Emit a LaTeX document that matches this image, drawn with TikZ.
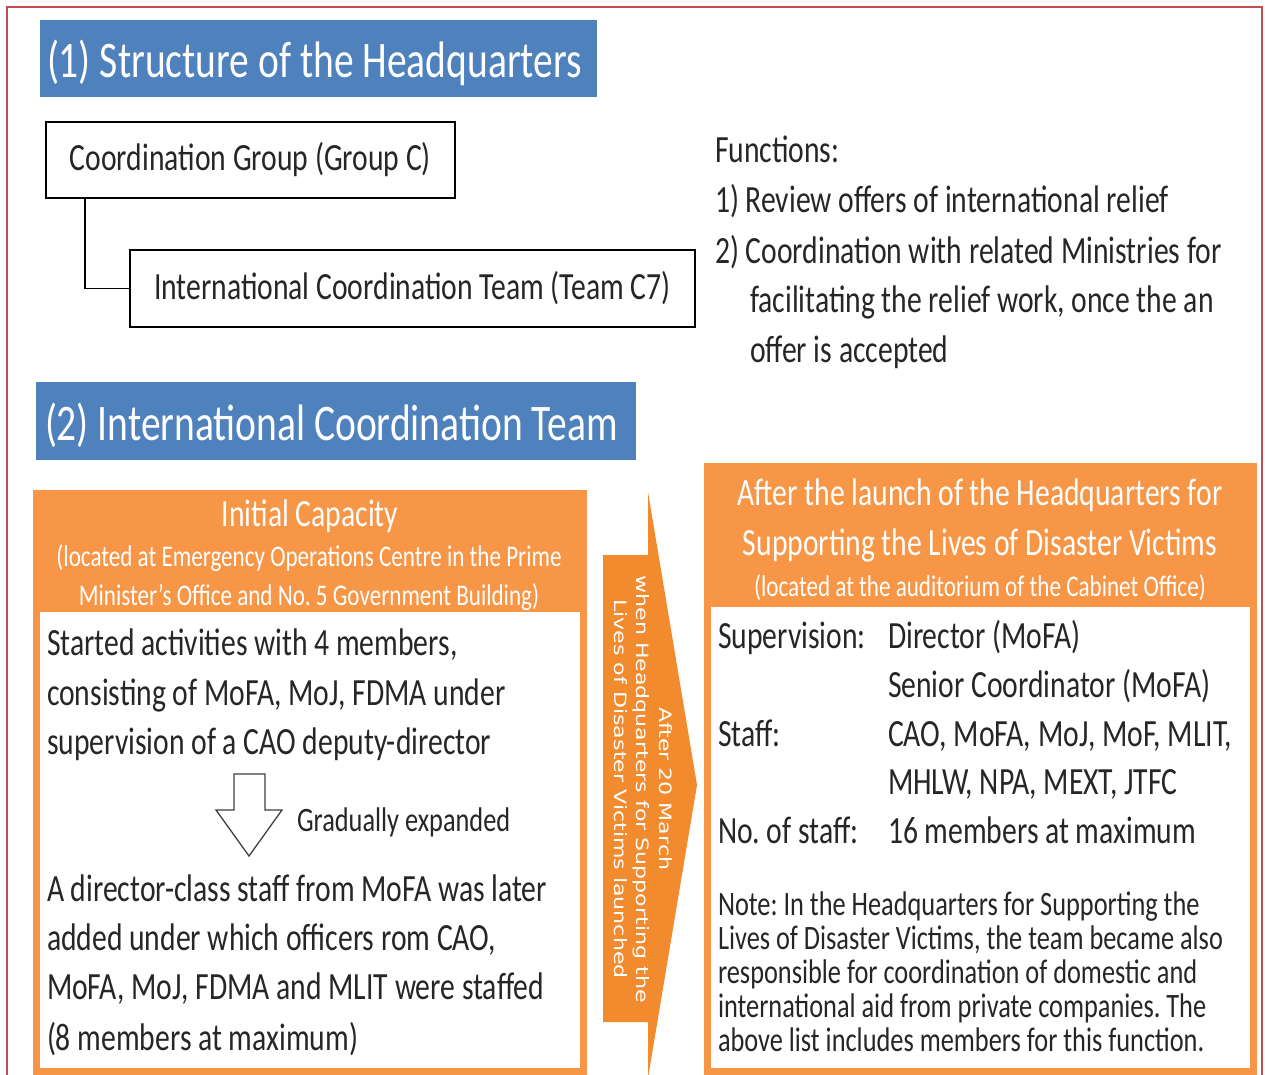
\documentclass[tikz,border=0pt]{standalone}
\usepackage{fontspec}
\setmainfont{Carlito}[FakeStretch=0.77]
\newfontfamily\arrfont{DejaVu Sans}[FakeStretch=1.3]
\usetikzlibrary{calc}
\definecolor{hdblue}{HTML}{4F81BD}
\definecolor{hdorange}{HTML}{F79646}
\definecolor{arrorange}{HTML}{F28A2E}
\definecolor{pageframe}{HTML}{C0504D}
\definecolor{ink}{HTML}{262626}
\newcommand\fsz[1]{\fontsize{#1}{#1}\selectfont}
\frenchspacing
\begin{document}
\begin{tikzpicture}[x=1pt,y=-1pt,
  every node/.style={inner sep=0pt, outer sep=0pt},
  titlebox/.style={fill=hdblue, anchor=north west, minimum height=77pt},
  titletext/.style={anchor=base west, text=white, font=\fsz{51.3}},
  orgbox/.style={draw=black, line width=1.4pt, fill=white, anchor=north west, text=ink, font=\fsz{38.5}},
  bodytext/.style={anchor=base west, text=ink, font=\fsz{38.5}},
  notetext/.style={anchor=base west, text=ink, font=\fsz{34.2}},
  headbig/.style={anchor=base, text=white, font=\fsz{38.5}},
  headsmall/.style={anchor=base, text=white, font=\fsz{30}},
  orangebox/.style={fill=hdorange, anchor=north west},
  whitebody/.style={fill=white, anchor=north west}
]
\useasboundingbox (0,0) rectangle (1265,1075);
% page frame
\draw[pageframe, line width=2pt] (7,1090) -- (7,7) -- (1262,7) -- (1262,1090);

% ---------- (1) ----------
\node[titlebox, minimum width=557pt] (t1box) at (40,20) {};
\node[titletext] (t1) at (47,78) {(1) Structure of the Headquarters};

\node[orgbox, minimum width=409pt, minimum height=76pt] (grpC) at (46,122) {Coordination Group (Group C)};
\node[orgbox, minimum width=565pt, minimum height=77pt] (teamC7) at (130,250) {International Coordination Team (Team C7)};
\draw[black, line width=1.4pt] ($(grpC.south west)+(39,0)$) |- (teamC7.west);

\node[bodytext] (f0) at (715,163) {Functions:};
\node[bodytext] (f1) at (715,213) {1) Review offers of international relief};
\node[bodytext] (f2) at (715,263) {2) Coordination with related Ministries for};
\node[bodytext] (f3) at (750,312) {facilitating the relief work, once the an};
\node[bodytext] (f4) at (750,362) {offer is accepted};

% ---------- (2) ----------
\node[titlebox, minimum width=600pt, minimum height=78pt] (t2box) at (36,382) {};
\node[titletext] (t2) at (45,440) {(2) International Coordination Team};

% left orange box
\node[orangebox, minimum width=554pt, minimum height=600pt] (initbox) at (33,490) {};
\node[whitebody, minimum width=540pt, minimum height=456pt] (initbody) at (40,612) {};
\node[headbig] (ih1) at (310,526) {Initial Capacity};
\node[headsmall] (ih2) at (309,566) {(located at Emergency Operations Centre in the Prime};
\node[headsmall] (ih3) at (309,605) {Minister’s Office and No. 5 Government Building)};

\node[bodytext] (l1) at (47,655) {Started activities with 4 members,};
\node[bodytext] (l2) at (47,705) {consisting of MoFA, MoJ, FDMA under};
\node[bodytext] (l3) at (47,754) {supervision of a CAO deputy-director};

\draw[black!75, line width=1.3pt, fill=white] (234,774) -- (265,774) -- (265,810) -- (282,810) -- (249,856) -- (216,810) -- (234,810) -- cycle;
\node[notetext] (grad) at (297,831) {Gradually expanded};

\node[bodytext] (l4) at (47,901) {A director-class staff from MoFA was later};
\node[bodytext] (l5) at (47,950) {added under which officers rom CAO,};
\node[bodytext] (l6) at (47,999) {MoFA, MoJ, FDMA and MLIT were staffed};
\node[bodytext] (l7) at (47,1050) {(8 members at maximum)};

% arrow
\fill[arrorange] (603,555) -- (648,555) -- (648,492) -- (697,785) -- (648,1078) -- (648,1022) -- (603,1022) -- cycle;
\node[rotate=-90, align=center, text=white, font=\arrfont\fontsize{17}{22.5}\selectfont] (arrtxt) at (643,789)
  {After 20 March\\when Headquarters for Supporting the\\Lives of Disaster Victims launched};

% right orange box
\node[orangebox, minimum width=553pt, minimum height=627pt] (afterbox) at (704,463) {};
\node[whitebody, minimum width=539pt, minimum height=461pt] (afterbody) at (711,607) {};
\node[headbig] (ah1) at (980,505) {After the launch of the Headquarters for};
\node[headbig] (ah2) at (980,555) {Supporting the Lives of Disaster Victims};
\node[headsmall] (ah3) at (980,596) {(located at the auditorium of the Cabinet Office)};

\node[bodytext] (r1a) at (718,648) {Supervision:};
\node[bodytext] (r1b) at (888,648) {Director (MoFA)};
\node[bodytext] (r2b) at (888,697) {Senior Coordinator (MoFA)};
\node[bodytext] (r3a) at (718,746) {Staff:};
\node[bodytext] (r3b) at (888,746) {CAO, MoFA, MoJ, MoF, MLIT,};
\node[bodytext] (r4b) at (888,794) {MHLW, NPA, MEXT, JTFC};
\node[bodytext] (r5a) at (718,843) {No. of staff:};
\node[bodytext] (r5b) at (888,843) {16 members at maximum};

\node[notetext] (n1) at (718,915) {Note: In the Headquarters for Supporting the};
\node[notetext] (n2) at (718,949) {Lives of Disaster Victims, the team became also};
\node[notetext] (n3) at (718,983) {responsible for coordination of domestic and};
\node[notetext] (n4) at (718,1017) {international aid from private companies. The};
\node[notetext] (n5) at (718,1051) {above list includes members for this function.};
\end{tikzpicture}
\end{document}
